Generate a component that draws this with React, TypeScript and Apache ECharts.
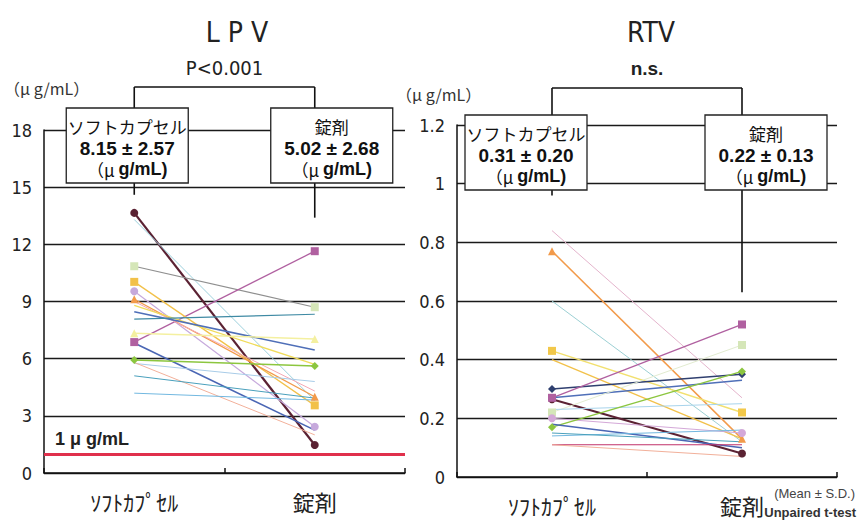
import React, { useEffect, useRef } from "react";
import * as echarts from "echarts";

// Paired plasma concentrations (soft capsule -> tablet), one entry per subject
const categories = ["ｿﾌﾄｶﾌﾟｾﾙ", "錠剤"];

const lpvSoft = [13.65, 13.3, 10.85, 6.87, 10.03, 9.54, 9.12, 9.0, 8.8, 8.46, 8.07, 7.34, 6.82, 5.93, 5.75, 5.8, 5.1, 4.19];
const lpvTablet = [1.47, 3.8, 8.7, 11.64, 3.55, 2.43, 4.0, 4.3, 5.7, 6.45, 8.33, 7.03, 2.25, 5.61, 4.8, 2.0, 3.93, 3.83];

const rtvSoft = [0.84, 0.77, 0.6, 0.43, 0.4, 0.3, 0.265, 0.27, 0.27, 0.22, 0.23, 0.2, 0.17, 0.18, 0.14, 0.11, 0.11, 0.15];
const rtvTablet = [0.27, 0.13, 0.12, 0.22, 0.13, 0.35, 0.08, 0.52, 0.33, 0.45, 0.25, 0.15, 0.36, 0.1, 0.16, 0.11, 0.07, 0.12];

// Mean ± SD per formulation
const lpvStats = [["8.15", "2.57"], ["5.02", "2.68"]];
const rtvStats = [["0.31", "0.20"], ["0.22", "0.13"]];

// Lower ends of the bracket stems (in axis units)
const lpvStemEnds = [14.6, 13.4];
const rtvStemEnds = [0.96, 0.63];

const lpvTicks = { min: 0, max: 18, interval: 3 };
const rtvTicks = { min: 0, max: 1.2, interval: 0.2 };

const thresholdValue = 1; // 1 μg/mL reference level

type Sty = { c: string; s: string; w: number; m?: string };

const lpvStyles: Sty[] = [
  { c: "#5b2233", s: "circle", w: 2.2 },
  { c: "#9cd0dc", s: "none", w: 1 },
  { c: "#8f8f8f", s: "rect", w: 1.2, m: "#d5e6b8" },
  { c: "#b060a0", s: "rect", w: 1.3 },
  { c: "#f2c14a", s: "rect", w: 1.3 },
  { c: "#c6a9dc", s: "circle", w: 1.2 },
  { c: "#f29a4a", s: "triangle", w: 1.3 },
  { c: "#f4a8b4", s: "none", w: 1 },
  { c: "#f0dc5a", s: "none", w: 1.3 },
  { c: "#4f6fb8", s: "none", w: 1.6 },
  { c: "#3f8aa4", s: "none", w: 1.2 },
  { c: "#f4f0a0", s: "triangle", w: 1.5 },
  { c: "#4a66b4", s: "none", w: 1.6 },
  { c: "#8cc63f", s: "diamond", w: 1.5 },
  { c: "#a8cce8", s: "none", w: 1 },
  { c: "#f2b09a", s: "none", w: 1 },
  { c: "#4aa0bc", s: "none", w: 1 },
  { c: "#72b8e0", s: "none", w: 1 },
];

const rtvStyles: Sty[] = [
  { c: "#e4b4cc", s: "none", w: 1 },
  { c: "#f29a4a", s: "triangle", w: 1.5 },
  { c: "#9cd0d4", s: "none", w: 1 },
  { c: "#f2e070", s: "rect", w: 1.5, m: "#f2c84a" },
  { c: "#f2c14a", s: "none", w: 1.3 },
  { c: "#2f3f6f", s: "diamond", w: 1.5 },
  { c: "#5b2233", s: "circle", w: 2 },
  { c: "#b060a0", s: "rect", w: 1.3 },
  { c: "#4f6fb8", s: "none", w: 1.5 },
  { c: "#e2ecd0", s: "rect", w: 1, m: "#d5e6b8" },
  { c: "#a8d4ec", s: "none", w: 1 },
  { c: "#d4a8d8", s: "circle", w: 1 },
  { c: "#8cc63f", s: "diamond", w: 1.5 },
  { c: "#4a66b4", s: "none", w: 1.5 },
  { c: "#72b8e0", s: "none", w: 1 },
  { c: "#c0306a", s: "none", w: 1.2 },
  { c: "#f2b09a", s: "none", w: 1 },
  { c: "#4aa0bc", s: "none", w: 1 },
];

const NARROW = "'Liberation Sans Narrow', 'DejaVu Sans Condensed', 'Arial Narrow', sans-serif";
const JP = "'Noto Sans CJK JP', sans-serif";
const SANS = "'Liberation Sans', Arial, sans-serif";

function pairSeries(soft: number[], tablet: number[], styles: Sty[], idx: number) {
  return soft.map((v, i) => {
    const st = styles[i];
    return {
      type: "line",
      xAxisIndex: idx,
      yAxisIndex: idx,
      data: [v, tablet[i]],
      symbol: st.s,
      symbolSize: st.s === "none" ? 0 : 8,
      showSymbol: st.s !== "none",
      lineStyle: { color: st.c, width: st.w },
      itemStyle: { color: st.m || st.c, borderWidth: 0 },
      z: 3,
      silent: true,
    };
  });
}

function axisPair(idx: number, ticks: { min: number; max: number; interval: number }) {
  const x = {
    type: "category",
    gridIndex: idx,
    data: categories,
    boundaryGap: true,
    axisLine: { show: true, lineStyle: { color: "#111", width: 1.5 } },
    axisTick: { show: true, inside: true, length: 5, lineStyle: { color: "#111", width: 1.5 } },
    axisLabel: { fontSize: 22, margin: 17, color: "#222", fontFamily: JP },
  };
  const y = {
    type: "value",
    gridIndex: idx,
    min: ticks.min,
    max: ticks.max,
    interval: ticks.interval,
    axisLine: { show: true, lineStyle: { color: "#111", width: 1.5 } },
    axisTick: { show: false },
    axisLabel: { fontSize: 18, margin: 12, color: "#222", fontFamily: NARROW },
    splitLine: { show: true, lineStyle: { color: "#1a1a1a", width: 1.4 } },
  };
  return { x, y };
}

export default function App() {
  const ref = useRef<HTMLDivElement>(null);

  useEffect(() => {
    if (!ref.current) return;
    const chart = echarts.init(ref.current, null, { renderer: "svg" });
    const a0 = axisPair(0, lpvTicks);
    const a1 = axisPair(1, rtvTicks);

    const series: any[] = [
      ...pairSeries(lpvSoft, lpvTablet, lpvStyles, 0),
      ...pairSeries(rtvSoft, rtvTablet, rtvStyles, 1),
    ];
    // reference level line
    series.push({
      type: "line",
      xAxisIndex: 0,
      yAxisIndex: 0,
      data: [],
      silent: true,
      markLine: {
        silent: true,
        symbol: "none",
        label: { show: false },
        lineStyle: { color: "#e0304c", width: 3, type: "solid" },
        data: [{ yAxis: thresholdValue }],
      },
    });

    chart.setOption({
      animation: false,
      backgroundColor: "#ffffff",
      grid: [
        { left: 44, right: 454, top: 130, bottom: 49 },
        { left: 457, right: 22, top: 125, bottom: 45 },
      ],
      xAxis: [a0.x, a1.x],
      yAxis: [a0.y, a1.y],
      series,
    });

    const els: any[] = [];
    const line = (x1: number, y1: number, x2: number, y2: number) =>
      els.push({
        type: "line",
        z: 10,
        shape: { x1, y1, x2, y2 },
        style: { stroke: "#111", lineWidth: 1.6 },
      });

    const panel = (
      idx: number,
      stats: string[][],
      stemEnds: number[],
      bracketTop: number,
      boxTop: number,
      boxOffsets: number[],
      title: string,
      titleX: number,
      sig: string,
      sigStyle: any,
      unitX: number,
      unitY: number
    ) => {
      const xs = categories.map((c, i) =>
        (chart.convertToPixel({ xAxisIndex: idx, yAxisIndex: idx } as any, [c, stemEnds[i]]) as number[])
      );
      // bracket across the two groups
      line(xs[0][0], bracketTop, xs[1][0], bracketTop);
      xs.forEach((p) => line(p[0], bracketTop, p[0], p[1]));
      // boxes with mean ± SD
      const bw = 122;
      const bh = 75;
      categories.forEach((c, i) => {
        const cx = xs[i][0] + boxOffsets[i];
        els.push({
          type: "rect",
          z: 11,
          shape: { x: cx - bw / 2, y: boxTop, width: bw, height: bh },
          style: { fill: "#fff", stroke: "#222", lineWidth: 1.3 },
        });
        const name = i === 0 ? "ソフトカプセル" : "錠剤";
        els.push({
          type: "text",
          z: 12,
          x: cx,
          y: boxTop + 18,
          style: { text: name, fontSize: 17, fontFamily: JP, fill: "#111", align: "center", verticalAlign: "middle" },
        });
        els.push({
          type: "text",
          z: 12,
          x: cx,
          y: boxTop + 40,
          style: {
            text: `${stats[i][0]} ± ${stats[i][1]}`,
            fontSize: 19,
            fontWeight: "bold",
            fontFamily: SANS,
            fill: "#111",
            align: "center",
            verticalAlign: "middle",
          },
        });
        els.push({
          type: "text",
          z: 12,
          x: cx,
          y: boxTop + 61,
          style: {
            text: "{a|（μ }{b|g/mL)}",
            align: "center",
            verticalAlign: "middle",
            rich: {
              a: { fontSize: 17, fontFamily: JP, fill: "#111" },
              b: { fontSize: 18, fontWeight: "bold", fontFamily: SANS, fill: "#111" },
            },
          },
        });
      });
      els.push({
        type: "text",
        x: titleX,
        y: 32,
        style: { text: title, fontSize: 28, fontFamily: NARROW, fill: "#222", align: "center", verticalAlign: "middle" },
      });
      els.push({
        type: "text",
        x: (xs[0][0] + xs[1][0]) / 2,
        y: 68,
        style: { text: sig, fill: "#222", align: "center", verticalAlign: "middle", ...sigStyle },
      });
      els.push({
        type: "text",
        x: unitX,
        y: unitY,
        style: { text: "（μ g/mL）", fontSize: 16, fontFamily: JP, fill: "#333", align: "left", verticalAlign: "middle" },
      });
    };

    panel(0, lpvStats, lpvStemEnds, 87, 108, [-7, 17], "L P V", 237, "P<0.001",
      { fontSize: 20, fontFamily: NARROW }, 4, 88);
    panel(1, rtvStats, rtvStemEnds, 88, 115, [-26, 24], "RTV", 651, "n.s.",
      { fontSize: 19, fontWeight: "bold", fontFamily: SANS }, 396, 94);

    const ref1 = chart.convertToPixel({ yAxisIndex: 0 } as any, thresholdValue) as number;
    els.push({
      type: "text",
      x: 55,
      y: ref1 - 15,
      style: { text: "1 μ g/mL", fontSize: 18, fontWeight: "bold", fontFamily: SANS, fill: "#222", align: "left", verticalAlign: "middle" },
    });
    els.push({
      type: "text",
      x: 855,
      y: 493,
      style: { text: "(Mean ± S.D.)", fontSize: 13, fontFamily: SANS, fill: "#444", align: "right", verticalAlign: "middle" },
    });
    els.push({
      type: "text",
      x: 856,
      y: 512,
      style: { text: "Unpaired t-test", fontSize: 13, fontWeight: "bold", fontFamily: SANS, fill: "#333", align: "right", verticalAlign: "middle" },
    });

    chart.setOption({ graphic: { elements: els } });

    return () => chart.dispose();
  }, []);

  return (
    <div
      ref={ref}
      style={{ position: "fixed", left: 0, top: 0, width: 859, height: 522, background: "#fff" }}
    />
  );
}
